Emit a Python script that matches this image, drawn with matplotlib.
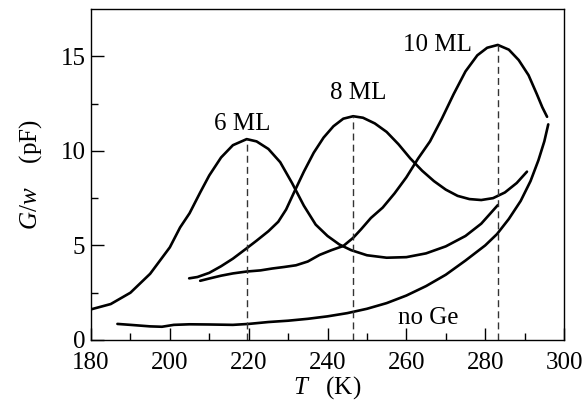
import numpy as np
import matplotlib
matplotlib.use('Agg')
import matplotlib.pyplot as plt

plt.rcParams['font.family'] = 'Liberation Serif'
plt.rcParams['mathtext.fontset'] = 'custom'
plt.rcParams['mathtext.it'] = 'Liberation Serif:italic'
plt.rcParams['mathtext.rm'] = 'Liberation Serif'

# datos
T_6 = [180, 185, 190, 195, 200, 202.6, 205, 207.7, 210, 213, 216, 219.5, 222, 225, 228, 231,
       234, 237, 240, 243, 246, 250, 255, 260, 265, 270, 275, 279, 283.2]
G_6 = [1.62, 1.9, 2.5, 3.5, 4.9, 5.95, 6.7, 7.8, 8.7, 9.65, 10.3, 10.62, 10.5, 10.1, 9.4, 8.3,
       7.1, 6.1, 5.5, 5.05, 4.75, 4.48, 4.35, 4.38, 4.58, 4.95, 5.5, 6.15, 7.13]

T_8 = [204.9, 207, 210, 213, 216, 219.5, 222, 225, 227.5, 229.5, 231.5, 234, 236.5, 239,
       241.5, 244, 246.5, 249, 252, 255, 258, 261, 264, 267, 270, 273, 276, 279, 282, 285,
       288, 290.6]
G_8 = [3.26, 3.33, 3.55, 3.9, 4.3, 4.85, 5.25, 5.75, 6.25, 6.9, 7.8, 8.9, 9.9, 10.7,
       11.3, 11.7, 11.83, 11.75, 11.45, 11.0, 10.35, 9.6, 8.95, 8.4, 7.95, 7.62, 7.45, 7.4, 7.5, 7.8,
       8.3, 8.9]

T_10 = [207.7, 210, 213, 216, 219.5, 223, 226, 229, 232, 235, 238, 241, 244, 246.5, 248.5,
        251, 254, 257, 260, 263, 266, 269, 272, 275, 278, 280.5, 283.2, 286, 288.5, 291,
        293.1, 294.5, 295.7]
G_10 = [3.13, 3.25, 3.4, 3.52, 3.62, 3.68, 3.78, 3.86, 3.95, 4.15, 4.5, 4.75, 4.97, 5.4, 5.85,
        6.45, 7.0, 7.75, 8.6, 9.6, 10.5, 11.7, 13.0, 14.2, 15.05, 15.45, 15.6, 15.35, 14.8, 14.0,
        13.0, 12.3, 11.8]

T_noGe = [186.7, 190, 195, 198, 201, 205, 210, 216, 220, 225, 230, 235, 240, 245, 250, 255,
          260, 265, 270, 275, 280, 283, 286, 289, 291.5, 293.5, 295, 296]
G_noGe = [0.85, 0.8, 0.72, 0.7, 0.8, 0.83, 0.82, 0.8, 0.85, 0.95, 1.02, 1.12, 1.25, 1.42, 1.65,
          1.95, 2.35, 2.85, 3.45, 4.2, 5.0, 5.6, 6.4, 7.35, 8.4, 9.5, 10.5, 11.4]

picos_T = [219.5, 246.5, 283.3]
picos_G = [10.62, 11.83, 15.6]

etiquetas = ['6 ML', '8 ML', '10 ML', 'no Ge']
etiq_T = [218.3, 247.7, 268, 265.5]
etiq_G = [11.4, 13.05, 15.6, 1.15]

fig = plt.figure(figsize=(5.86, 4.16), dpi=100)
ax = fig.add_axes([0.1553, 0.1827, 0.8072, 0.7957])

for T, G in [(T_6, G_6), (T_8, G_8), (T_10, G_10), (T_noGe, G_noGe)]:
    ax.plot(T, G, color='black', lw=1.9, solid_capstyle='round', solid_joinstyle='round')

for t, g in zip(picos_T, picos_G):
    ax.plot([t, t], [0, g], color='#333333', lw=1.0, ls=(0, (5, 3)))

for txt, t, g in zip(etiquetas, etiq_T, etiq_G):
    ax.text(t, g, txt, fontsize=18, ha='center', va='center')

ax.set_xlim(180, 300)
ax.set_ylim(0, 17.5)
ax.set_xticks([180, 200, 220, 240, 260, 280, 300])
ax.set_xticks(np.arange(190, 300, 20), minor=True)
ax.set_yticks([0, 5, 10, 15])
ax.set_yticks([2.5, 7.5, 12.5], minor=True)
ax.tick_params(which='both', direction='in', labelsize=18, width=1)
ax.tick_params(which='major', length=9)
ax.tick_params(which='minor', length=5)
ax.tick_params(axis='x', pad=9)
ax.tick_params(axis='y', pad=4)
for s in ax.spines.values():
    s.set_linewidth(1)

ax.set_xlabel(r'$T$   (K)', fontsize=18, labelpad=0)
ax.set_ylabel(r'$G/w$    (pF)', fontsize=18, labelpad=12)

plt.savefig('out.png', dpi=100)
